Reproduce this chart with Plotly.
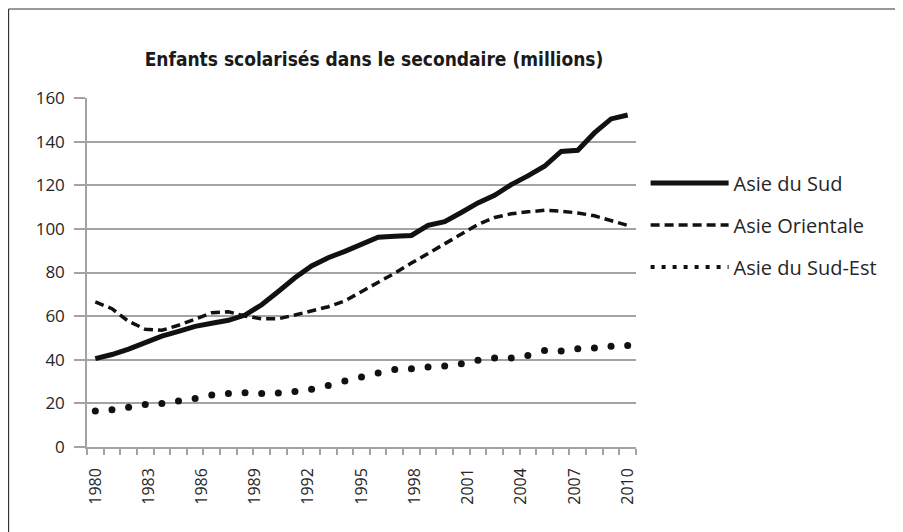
import plotly.graph_objects as go

# ---- data ----
year_labels = ["1980", "1983", "1986", "1989", "1992", "1995",
               "1998", "2001", "2004", "2007", "2010"]

asie_du_sud = [40.5, 42.4, 44.9, 48.0, 50.8, 53.0, 55.3, 56.7, 58.1, 60.5,
               65.2, 71.3, 77.6, 83.0, 86.8, 89.7, 92.8, 96.2, 96.6, 97.0,
               101.6, 103.3, 107.5, 111.9, 115.4, 120.3, 124.3, 128.7, 135.5,
               136.0, 144.0, 150.4, 152.2]

asie_orientale = [66.5, 63.4, 57.6, 54.0, 53.5, 55.8, 58.6, 61.5, 62.0, 60.0,
                  58.8, 58.8, 60.5, 62.3, 64.3, 67.0, 71.2, 75.5, 79.7, 84.3,
                  88.7, 93.2, 97.6, 102.0, 105.2, 106.9, 107.8, 108.5, 108.1,
                  107.3, 106.0, 104.0, 101.6]

asie_du_sud_est = [16.5, 17.1, 18.2, 19.5, 19.9, 21.1, 22.2, 23.8, 24.5, 24.9,
                   24.5, 24.8, 25.5, 26.5, 28.2, 30.3, 32.1, 33.9, 35.5, 35.9,
                   36.7, 37.1, 38.2, 39.8, 40.8, 40.8, 41.9, 44.2, 44.0, 45.1,
                   45.4, 46.2, 46.5]

series_names = ["Asie du Sud", "Asie Orientale", "Asie du Sud-Est"]

n = len(asie_du_sud)
idx = list(range(n))
# label positions spread evenly over the category range
label_pos = [i * (n - 1) / (len(year_labels) - 1) for i in range(len(year_labels))]

GRID = "#a3a3a3"
TXT = "#262626"
FONT = "Open Sans, Lato, DejaVu Sans, sans-serif"

PW, PH = 549.4, 349.0   # plot area size in px

fig = go.Figure()
fig.add_trace(go.Scatter(
    x=idx, y=asie_du_sud, mode="lines", name=series_names[0],
    line=dict(color="#111111", width=5), legendgroup="a"))
fig.add_trace(go.Scatter(
    x=idx, y=asie_orientale, mode="lines", name=series_names[1],
    line=dict(color="#111111", width=3.5, dash="9px,5px"), legendgroup="b"))
fig.add_trace(go.Scatter(
    x=idx, y=asie_du_sud_est, mode="markers", name=series_names[2],
    marker=dict(color="#111111", size=7), showlegend=False, legendgroup="c"))
# legend entry for the dotted series
fig.add_trace(go.Scatter(
    x=[None], y=[None], mode="lines", name=series_names[2],
    line=dict(color="#111111", width=4, dash="4px,7px"), legendgroup="c"))

fig.update_layout(
    width=895, height=524,
    margin=dict(l=79, r=895 - 79 - PW, t=90, b=524 - 90 - PH),
    paper_bgcolor="white", plot_bgcolor="white",
    font=dict(family=FONT, color=TXT, size=15),
    title=dict(text="<b>Enfants scolarisés dans le secondaire (millions)</b>",
               font=dict(family="DejaVu Sans Condensed, Liberation Sans Narrow, Liberation Sans, sans-serif",
                         size=19, color="#1a1a1a"),
               x=(374 - 8) / 895, xanchor="center", y=1 - (59 - 8) / 524, yanchor="middle"),
    showlegend=True,
    legend=dict(x=1.0175, y=0.812, xanchor="left", yanchor="top",
                font=dict(family=FONT, size=20, color=TXT),
                traceorder="grouped", tracegroupgap=13,
                bgcolor="rgba(0,0,0,0)", itemwidth=78),
    xaxis=dict(range=[-0.5, n - 0.5], showgrid=False,
               tickmode="array", tickvals=label_pos, ticktext=year_labels,
               tickangle=-90, ticks="", ticklabelstandoff=13,
               tickfont=dict(size=16, color=TXT),
               showline=True, linecolor=GRID, linewidth=1.5,
               minor=dict(tickmode="linear", tick0=-0.5, dtick=1,
                          ticks="outside", ticklen=6, tickcolor=GRID,
                          tickwidth=1.5, showgrid=False),
               zeroline=False, fixedrange=True),
    yaxis=dict(range=[0, 160], tickmode="linear", tick0=0, dtick=20,
               showgrid=True, gridcolor=GRID, gridwidth=1.5,
               ticks="outside", ticklen=11, tickcolor=GRID, tickwidth=1.5,
               ticklabelstandoff=6,
               tickfont=dict(size=17, color=TXT),
               showline=True, linecolor=GRID, linewidth=1.5,
               zeroline=False, fixedrange=True),
    shapes=[
        dict(type="line", xref="paper", yref="paper", x0=-78.5 / PW, x1=820 / PW,
             y0=1 + 89 / PH, y1=1 + 89 / PH, line=dict(color="#333333", width=1.2)),
        dict(type="line", xref="paper", yref="paper", x0=-78.5 / PW, x1=-78.5 / PW,
             y0=1 + 89 / PH, y1=-90 / PH, line=dict(color="#333333", width=1.2)),
    ],
)

fig.write_html("out.html")
